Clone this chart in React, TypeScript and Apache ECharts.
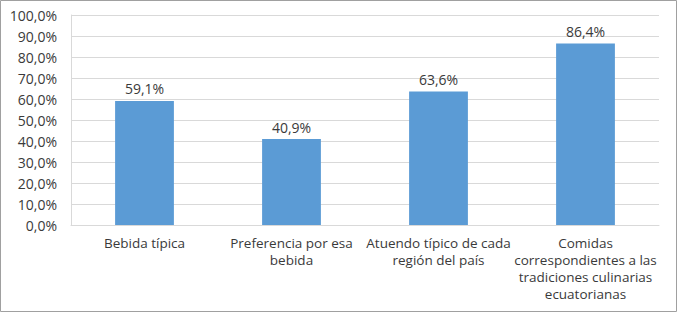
import React, { useEffect, useRef } from "react";
import * as echarts from "echarts";

const categories = [
  "Bebida típica",
  "Preferencia por esa\nbebida",
  "Atuendo típico de cada\nregión del país",
  "Comidas\ncorrespondientes a las\ntradiciones culinarias\necuatorianas",
];
const values = [59.1, 40.9, 63.6, 86.4];
const yMin = 0;
const yMax = 100;
const yStep = 10;

const fmt = (v: number) => v.toFixed(1).replace(".", ",") + "%";

export default function App() {
  const ref = useRef<HTMLDivElement>(null);
  useEffect(() => {
    document.body.style.margin = "0";
    const chart = echarts.init(ref.current!, null, { renderer: "svg" });
    const font = "Open Sans";
    chart.setOption({
      animation: false,
      backgroundColor: "#ffffff",
      textStyle: { fontFamily: font },
      graphic: [
        {
          type: "rect",
          shape: { x: 0.5, y: 0.5, width: 676, height: 311 },
          style: { fill: "none", stroke: "#a0a0a0", lineWidth: 1 },
          silent: true,
        },
      ],
      grid: { left: 71, right: 18, top: 15, bottom: 87, containLabel: false },
      xAxis: {
        type: "category",
        data: categories,
        axisLine: { show: true, lineStyle: { color: "#d9d9d9", width: 1 } },
        axisTick: { show: false },
        axisLabel: {
          interval: 0,
          color: "#3a3a3a",
          fontFamily: font,
          fontSize: 13.5,
          lineHeight: 17,
          margin: 9,
          align: "center",
        },
      },
      yAxis: {
        type: "value",
        min: yMin,
        max: yMax,
        interval: yStep,
        axisLine: { show: true, lineStyle: { color: "#d9d9d9", width: 1 } },
        axisTick: { show: false },
        splitLine: { show: true, lineStyle: { color: "#d9d9d9", width: 1 } },
        axisLabel: {
          color: "#3a3a3a",
          fontFamily: font,
          fontSize: 14,
          margin: 14,
          formatter: (v: number) => fmt(v),
        },
      },
      series: [
        {
          type: "bar",
          data: values,
          barWidth: "40%",
          itemStyle: { color: "#5b9bd5" },
          label: {
            show: true,
            position: "top",
            distance: 5,
            color: "#3a3a3a",
            fontFamily: font,
            fontSize: 14,
            formatter: (p: any) => fmt(p.value),
          },
        },
      ],
    });
    return () => chart.dispose();
  }, []);
  return <div ref={ref} style={{ width: 677, height: 312 }} />;
}
